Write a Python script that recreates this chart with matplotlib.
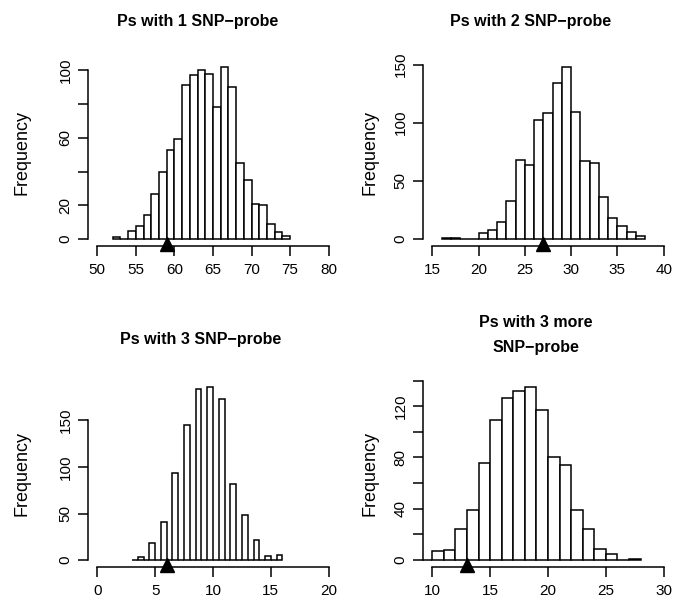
import matplotlib.pyplot as plt
from matplotlib import transforms

plt.rcParams['font.family'] = ['Liberation Sans', 'DejaVu Sans']

# ---- data (permutation histograms) ----
titles = ["Ps with 1 SNP\u2212probe", "Ps with 2 SNP\u2212probe",
          "Ps with 3 SNP\u2212probe", "Ps with 3 more\nSNP\u2212probe"]

# first bin edge, bin width and counts per panel
start1, width1 = 52, 1
counts1 = [1, 0, 5, 8, 14, 27, 40, 53, 59, 91, 97, 100, 98, 78, 102, 90,
           45, 35, 21, 20, 9, 4, 2]

start2, width2 = 16, 1
counts2 = [1, 1, 0, 0, 5, 8, 15, 33, 68, 64, 102, 108, 134, 148, 109, 67,
           65, 36, 18, 11, 6, 3]

start3, width3 = 3, 0.5
counts3 = [0, 3, 0, 18, 0, 41, 0, 93, 0, 145, 0, 184, 0, 186, 0, 173,
           0, 82, 0, 48, 0, 22, 0, 4, 0, 5]

start4, width4 = 9, 1
counts4 = [0, 7, 8, 24, 39, 76, 109, 126, 132, 135, 117, 80, 74, 39, 24,
           9, 5, 0, 1]

# observed values (black triangles)
observed = [59, 27, 6, 13]

# axis ranges and ticks
xranges = [(50, 80), (15, 40), (0, 20), (10, 30)]
xticks = [[50, 55, 60, 65, 70, 75, 80], [15, 20, 25, 30, 35, 40],
          [0, 5, 10, 15, 20], [10, 15, 20, 25, 30]]
yticks = [[0, 20, 40, 60, 80, 100], [0, 50, 100, 150],
          [0, 50, 100, 150], [0, 20, 40, 60, 80, 100, 120, 140]]
ylabels = [["0", "20", "", "60", "", "100"], ["0", "50", "100", "150"],
           ["0", "50", "100", "150"], ["0", "", "40", "", "80", "", "120", ""]]

panels = [(start1, width1, counts1), (start2, width2, counts2),
          (start3, width3, counts3), (start4, width4, counts4)]

W, H = 687, 611
# plot regions in pixels: left, top, right, bottom
boxes = [(88, 60, 338, 246), (423, 60, 673, 246),
         (88, 380, 338, 567), (423, 380, 673, 567)]
ylab_x = [-0.23, -0.18, -0.23, -0.18]
title_pos = [(0.44, 1.205), (0.43, 1.205), (0.45, 1.215), (0.45, 1.24)]

fig = plt.figure(figsize=(W / 100, H / 100), dpi=100)

for i, (start, width, counts) in enumerate(panels):
    l, t, r, b = boxes[i]
    ax = fig.add_axes([l / W, 1 - b / H, (r - l) / W, (b - t) / H])
    lefts = [start + k * width for k in range(len(counts))]
    ax.bar(lefts, counts, width=width, align='edge', color='white',
           edgecolor='black', linewidth=1.1)

    lo, hi = xranges[i]
    ax.set_xlim(lo - 0.04 * (hi - lo), hi + 0.04 * (hi - lo))
    ymax = max(counts)
    ax.set_ylim(-0.04 * ymax, 1.04 * ymax)

    ax.set_xticks(xticks[i])
    ax.set_yticks(yticks[i])
    ax.set_yticklabels(ylabels[i], rotation=90, va='center')
    ax.tick_params(direction='out', length=7, width=1.1, labelsize=11)
    ax.tick_params(axis='x', pad=5)
    ax.tick_params(axis='y', pad=4)

    for s in ['top', 'right']:
        ax.spines[s].set_visible(False)
    ax.spines['bottom'].set_bounds(xticks[i][0], xticks[i][-1])
    ax.spines['left'].set_bounds(yticks[i][0], yticks[i][-1])
    ax.spines['bottom'].set_linewidth(1.1)
    ax.spines['left'].set_linewidth(1.1)

    ax.set_ylabel("Frequency", fontsize=13)
    ax.yaxis.set_label_coords(ylab_x[i], 0.5)

    tx, ty = title_pos[i]
    ax.text(tx, ty, titles[i], transform=ax.transAxes, ha='center',
            va='center', fontsize=11.5, fontweight='bold', linespacing=1.8)

    trans = transforms.blended_transform_factory(ax.transData, ax.transAxes)
    ax.plot([observed[i]], [0.01], marker='^', color='black', markersize=10,
            transform=trans, clip_on=False)

fig.savefig("out.png", dpi=100, facecolor='white')
